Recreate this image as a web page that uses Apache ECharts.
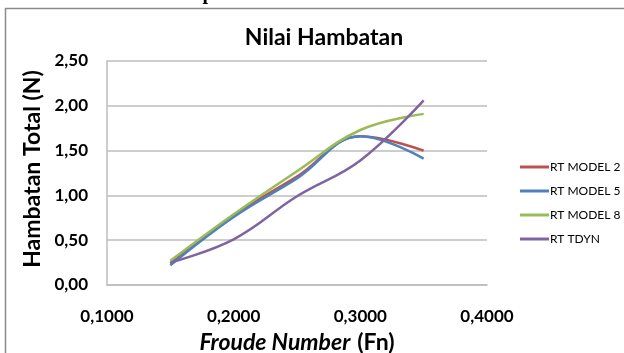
<!DOCTYPE html>
<html>
<head>
<meta charset="utf-8">
<script src="https://cdn.jsdelivr.net/npm/echarts@6/dist/echarts.min.js"></script>
<style>
  html, body { margin: 0; padding: 0; background: #fff; }
  #chart { width: 624px; height: 353px; }
</style>
</head>
<body>
<div id="chart"></div>
<script>
// Froude number of each measurement
const froude = [0.15, 0.20, 0.25, 0.30, 0.35];

// Total resistance (N) per model
const rtModel2 = [0.24, 0.78, 1.21, 1.66, 1.50];
const rtModel5 = [0.22, 0.76, 1.19, 1.66, 1.41];
const rtModel8 = [0.27, 0.79, 1.27, 1.73, 1.91];
const rtTdyn   = [0.25, 0.51, 0.99, 1.39, 2.06];

const seriesNames = ['RT MODEL 2', 'RT MODEL 5', 'RT MODEL 8', 'RT TDYN'];
const seriesColors = ['#C0504D', '#4F81BD', '#9BBB59', '#8064A2'];
const seriesValues = [rtModel2, rtModel5, rtModel8, rtTdyn];

const FONT = 'Lato';

const chart = echarts.init(document.getElementById('chart'), null, { renderer: 'canvas' });

const comma = (v, d) => v.toFixed(d).replace('.', ',');

chart.setOption({
  animation: false,
  backgroundColor: '#ffffff',
  textStyle: { fontFamily: FONT },
  title: {
    text: 'Nilai Hambatan',
    left: 319,
    top: 21,
    textAlign: 'center',
    textStyle: { fontFamily: FONT, fontSize: 23, fontWeight: 'bold', color: '#000' }
  },
  legend: {
    orient: 'vertical',
    left: 520,
    top: 161,
    width: 110,
    padding: 0,
    itemWidth: 29,
    itemHeight: 3,
    itemGap: 12,
    icon: 'rect',
    data: seriesNames,
    textStyle: {
      fontFamily: FONT, fontSize: 12, color: '#000',
      padding: [0, 0, 0, -4], width: 90, overflow: 'none'
    }
  },
  grid: { left: 107, right: 137, top: 61, bottom: 68, containLabel: false },
  xAxis: {
    type: 'value',
    min: 0.1,
    max: 0.4,
    interval: 0.1,
    axisLine: { show: true, lineStyle: { color: '#bcbcbc', width: 1.5 } },
    axisTick: { show: false },
    splitLine: { show: false },
    axisLabel: {
      margin: 23,
      fontFamily: FONT,
      fontSize: 17,
      fontWeight: 'bold',
      color: '#000',
      formatter: v => comma(v, 4)
    }
  },
  yAxis: {
    type: 'value',
    min: 0,
    max: 2.5,
    interval: 0.5,
    axisLine: { show: true, lineStyle: { color: '#bcbcbc', width: 1.5 } },
    axisTick: { show: false },
    splitLine: { show: true, lineStyle: { color: '#bcbcbc', width: 1.5 } },
    axisLabel: {
      margin: 19,
      fontFamily: FONT,
      fontSize: 17,
      fontWeight: 'bold',
      color: '#000',
      formatter: v => comma(v, 2)
    }
  },
  graphic: [
    {
      type: 'rect',
      silent: true,
      shape: { x: 5.5, y: 8.5, width: 700, height: 400 },
      style: { fill: 'none', stroke: '#8a8a8a', lineWidth: 1.5 }
    },
    {
      type: 'text',
      x: 177,
      y: -16,
      style: {
        text: 'Kapal',
        font: 'bold 20px "Liberation Serif", serif',
        fill: '#000',
        textVerticalAlign: 'top'
      }
    },
    {
      type: 'text',
      x: 33,
      y: 169,
      rotation: Math.PI / 2,
      style: {
        text: 'Hambatan Total (N)',
        font: 'bold 23px ' + FONT,
        fill: '#000',
        textAlign: 'center',
        textVerticalAlign: 'middle'
      }
    },
    {
      type: 'text',
      x: 297,
      y: 343,
      style: {
        text: '{it|Froude Number}{b|(Fn)}',
        textAlign: 'center',
        textVerticalAlign: 'middle',
        rich: {
          it: { fontFamily: FONT, fontSize: 23, fontWeight: 'bold', fontStyle: 'italic', fill: '#000' },
          b: { fontFamily: FONT, fontSize: 23, fontWeight: 'bold', fill: '#000', padding: [0, 0, 0, 7] }
        }
      }
    }
  ],
  series: seriesNames.map((name, i) => ({
    name: name,
    type: 'line',
    smooth: 0.4,
    symbol: 'none',
    color: seriesColors[i],
    lineStyle: { width: 2.5, color: seriesColors[i] },
    data: froude.map((x, j) => [x, seriesValues[i][j]])
  }))
});
</script>
</body>
</html>
